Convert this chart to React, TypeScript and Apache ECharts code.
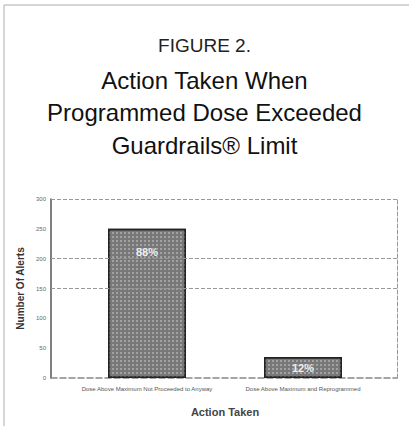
import React, { useEffect, useRef } from "react";
import * as echarts from "echarts";

const categories = [
  "Dose Above Maximum Not Proceeded to Anyway",
  "Dose Above Maximum and Reprogrammed",
];
const alertCounts = [250, 35];
const barLabels = ["88%", "12%"];
const gridValues = [150, 200, 300];
const titleLines = ["Action Taken When", "Programmed Dose Exceeded", "Guardrails® Limit"];
const yMin = 0;
const yMax = 300;
const yInterval = 50;

export default function App() {
  const ref = useRef<HTMLDivElement>(null);
  useEffect(() => {
    if (!ref.current) return;
    const chart = echarts.init(ref.current, undefined, { renderer: "svg" });
    const font = "'Liberation Sans', Arial, sans-serif";
    const lineTops = [63, 95.5, 128];
    chart.setOption({
      animation: false,
      aria: { enabled: true, decal: { show: true } },
      textStyle: { fontFamily: font },
      title: [
        {
          text: "FIGURE 2.",
          left: "center",
          top: 31,
          textStyle: { fontSize: 19, fontWeight: "normal", color: "#222", fontFamily: font },
        },
        ...titleLines.map((t, i) => ({
          text: t,
          left: "center",
          top: lineTops[i],
          textStyle: { fontSize: 24, fontWeight: "normal", color: "#111", fontFamily: font },
        })),
      ],
      graphic: [
        { type: "line", shape: { x1: 4, y1: 5, x2: 409, y2: 5 }, style: { stroke: "#c8c8c8", lineWidth: 1.5 } },
        { type: "line", shape: { x1: 4, y1: 5, x2: 4, y2: 426 }, style: { stroke: "#c8c8c8", lineWidth: 1.5 } },
      ],
      grid: [
        { left: 51, right: 12, top: 199, bottom: 48 },
        { left: 69, right: 28, top: 199, bottom: 48 },
      ],
      xAxis: [
        {
          gridIndex: 0,
          type: "category",
          data: categories,
          axisLine: { show: true, lineStyle: { color: "#888", type: "dashed", width: 1.5 } },
          axisTick: { show: false },
          axisLabel: { show: false },
          splitLine: { show: false },
        },
        {
          gridIndex: 1,
          type: "category",
          data: categories,
          axisLine: { show: false },
          axisTick: { show: false },
          axisLabel: { fontSize: 6, color: "#555", margin: 8, interval: 0 },
          name: "Action Taken",
          nameLocation: "middle",
          nameGap: 28,
          nameTextStyle: { fontSize: 11, fontWeight: "bold", color: "#444" },
        },
      ],
      yAxis: [
        {
          gridIndex: 0,
          type: "value",
          min: yMin,
          max: yMax,
          interval: yInterval,
          axisLine: { show: true, lineStyle: { color: "#555", width: 1.5 } },
          axisTick: { show: false },
          axisLabel: { fontSize: 6, color: "#666", margin: 5 },
          splitLine: { show: false },
          name: "Number Of Alerts",
          nameLocation: "middle",
          nameGap: 21,
          nameRotate: 90,
          nameTextStyle: { fontSize: 10, fontWeight: "bold", color: "#333" },
        },
        {
          gridIndex: 0,
          type: "value",
          position: "right",
          min: yMin,
          max: yMax,
          interval: yInterval,
          axisLine: { show: true, lineStyle: { color: "#999", type: "dashed", width: 1 } },
          axisTick: { show: false },
          axisLabel: { show: false },
          splitLine: { show: false },
        },
        {
          gridIndex: 1,
          type: "value",
          min: yMin,
          max: yMax,
          interval: yInterval,
          show: false,
          splitLine: { show: false },
        },
      ],
      series: [
        {
          type: "line",
          xAxisIndex: 0,
          yAxisIndex: 0,
          data: [],
          markLine: {
            silent: true,
            symbol: ["none", "none"],
            label: { show: false },
            lineStyle: { color: "#999", type: "dashed", width: 1 },
            data: gridValues.map((v) => ({ yAxis: v })),
          },
        },
        {
          type: "bar",
          xAxisIndex: 1,
          yAxisIndex: 2,
          barWidth: 78,
          z: 3,
          itemStyle: {
            color: "#787878",
            borderColor: "#222",
            borderWidth: 1.5,
            decal: {
              symbol: "rect",
              symbolSize: 1,
              color: "rgba(255,255,255,0.3)",
              dashArrayX: [1.5, 1.5],
              dashArrayY: [1.5, 1.5],
              rotation: 0,
            },
          },
          data: alertCounts.map((v, i) => ({
            value: v,
            label: {
              show: true,
              formatter: barLabels[i],
              position: i === 0 ? "insideTop" : "inside",
              distance: 18,
              color: "#eee",
              fontSize: 11,
              fontWeight: "bold",
            },
          })),
        },
      ],
    });
    return () => chart.dispose();
  }, []);
  return <div ref={ref} style={{ width: 409, height: 426, position: "absolute", left: 0, top: 0 }} />;
}
